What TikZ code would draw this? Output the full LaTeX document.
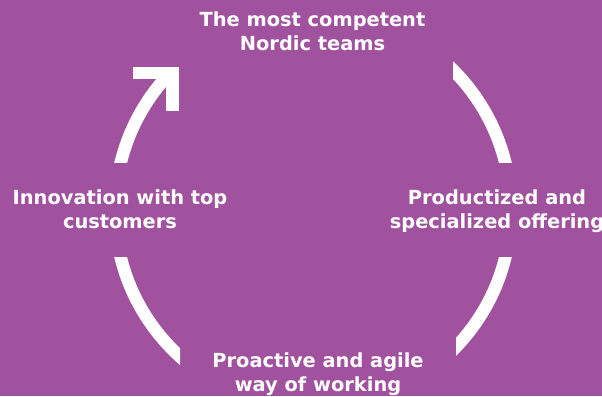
\documentclass[tikz,border=0pt]{standalone}
\usepackage{fontspec}
\setmainfont{DejaVu Sans}
\usepackage{tikz}

\definecolor{bgpurple}{RGB}{161,82,159}

\begin{document}
\begin{tikzpicture}[x=1pt,y=-1pt,
  label/.style={text=white,align=center,anchor=base,
    font=\fontsize{19.4}{24}\selectfont\bfseries},
  ring/.style={draw=white,line width=12.5pt}]
\fill[bgpurple] (0,0) rectangle (602,396);
\useasboundingbox (0,0) rectangle (602,396);
\clip (0,0) rectangle (602,396);
\coordinate (O) at (313,210);
% labels sit on the baseline of their last line
\node[label] (teams) at (312.5,50.7) {The most competent\\Nordic teams};
\node[label] (offer) at (497,228) {Productized and\\specialized offering};
\node[label] (agile) at (318,391.5) {Proactive and agile\\way of working};
\node[label] (innov) at (120,228) {Innovation with top\\customers};
% four pieces of one ring
\begin{scope}
\clip (453,0) rectangle (602,162);
\draw[ring] (O) circle (198);
\end{scope}
\begin{scope}
\clip (456,257) rectangle (602,396);
\draw[ring] (O) circle (198);
\end{scope}
\begin{scope}
\clip (0,257) rectangle (180,396);
\draw[ring] (O) circle (198);
\end{scope}
\begin{scope}
\clip (0,75) rectangle (180,162);
\draw[ring] (O) circle (198);
\end{scope}
% arrow head
\draw[ring,miter limit=10] (133,73) -- (172.5,73) -- (172.5,111);
\end{tikzpicture}
\end{document}
